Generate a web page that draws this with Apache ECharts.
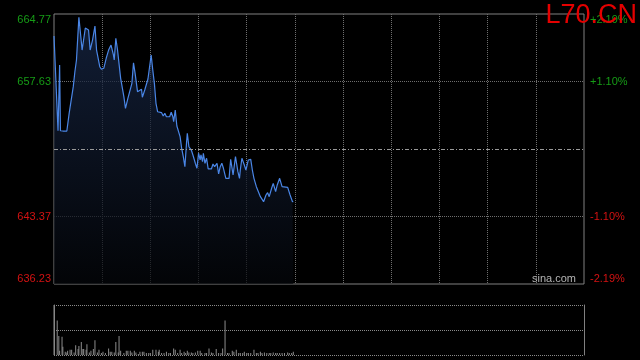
<!DOCTYPE html>
<html><head><meta charset="utf-8">
<script src="https://cdn.jsdelivr.net/npm/echarts@6/dist/echarts.min.js"></script>
<style>html,body{margin:0;padding:0;background:#000;}#c{width:640px;height:360px;}</style>
</head><body><div id="c"></div>
<script>
const symbolName = 'L70.CN';
const watermark = 'sina.com';
const preClose = 650.50;
const priceLabels = ['636.23', '643.37', '650.50', '657.63', '664.77'];
const pctLabels = ['-2.19%', '-1.10%', '0.00%', '+1.10%', '+2.19%'];

// minutes since open, last price
const lineMinutes = [0,5,7,8,11,16,19,21,24,26,
  28,31,35,39,41,43,45,48,51,53,
  57,59,62,65,68,71,74,75,77,79,
  81,83,85,87,89,92,94,97,99,101,
  104,106,109,110,113,117,119,121,123,125,
  127,129,134,136,138,140,144,146,148,149,
  151,153,155,157,159,161,163,165,166,168,
  171,173,176,178,180,182,183,185,186,188,
  190,192,196,198,200,203,205,207,209,211,
  214,218,220,223,226,229,231,232,234,237,
  239,242,245,247,249,252,254,257,259,261,
  264,266,268,271,273,276,278,281,284,286,
  291,294,297,298];
const linePrices = [662.44,652.43,659.38,652.43,652.40,652.40,654.34,654.44,657.09,658.67,
  659.91,664.42,660.96,663.29,663.50,663.08,660.96,662.02,663.50,660.96,
  659.20,658.93,659.03,660.09,660.96,661.49,660.44,659.91,662.20,661.04,
  660.96,657.97,657.90,656.03,654.80,655.86,656.03,657.44,659.62,658.50,
  656.56,656.39,656.81,655.97,656.74,657.90,657.97,660.44,658.85,657.44,
  655.33,654.44,654.34,653.99,654.27,653.91,653.91,654.38,653.91,653.39,
  654.62,652.93,652.86,651.80,650.57,649.69,648.63,651.10,652.16,650.74,
  650.39,649.87,648.99,648.46,650.05,649.34,649.87,649.16,650.05,648.99,
  649.52,648.39,648.39,648.91,648.63,648.99,647.86,648.63,648.99,648.46,
  647.40,647.40,649.41,647.75,649.69,648.10,647.40,648.28,649.52,648.81,
  648.28,649.34,649.41,648.28,647.40,646.52,646.35,645.46,645.29,644.93,
  645.64,645.88,645.46,646.35,646.87,645.99,646.70,647.40,646.52,646.45,
  646.45,645.64,644.93,644.93];

const volMinutes = [0,4,6,7,10,11,14,16,17,20,22,25,27,30,31,34,36,37,40,41,
  44,46,49,51,54,56,59,61,64,68,70,72,75,77,80,81,83,87,90,92,
  95,97,100,102,105,107,110,112,115,118,120,123,127,130,131,134,137,140,143,145,
  149,151,154,157,159,162,164,166,168,171,173,176,179,182,184,188,190,193,196,198,
  202,205,208,210,213,216,218,222,224,227,230,232,235,237,240,242,245,249,252,254,
  257,259,262,265,268,270,273,276,278,281,284,287,291,293,296,298];
const volValues = [10200,7060,3860,860,3720,1660,660,520,860,1060,1060,520,2000,1200,1860,2660,1200,1200,1060,2200,
  520,860,1200,3000,520,1060,400,660,400,1320,660,660,520,2660,520,3860,860,400,860,860,
  860,520,860,520,200,660,660,660,400,400,400,1060,1060,660,1060,400,400,660,400,400,
  1320,1060,400,1060,400,660,400,860,520,520,400,520,860,860,400,400,400,1320,520,400,
  1200,400,400,1320,7060,400,400,860,660,1060,400,400,400,660,400,400,400,1060,400,400,
  660,400,520,400,400,400,520,400,400,400,400,400,520,400,400,660];

const sessionMinutes = 660, gridStep = 60;
const range = (parseFloat(priceLabels[4]) - parseFloat(priceLabels[0])) / 2;
const step = range / 2;
const GREEN = '#169c16', RED = '#d41212';
const FONT = 'Liberation Sans, Arial, sans-serif';

const idxOf = v => Math.round((v + range) / step);
function yAx(position, labels, which, vAlign, split) {
  return {
    type: 'value', gridIndex: 0, position: position, min: -range, max: range, interval: step,
    axisLine: {show: false}, axisTick: {show: false},
    splitLine: split ? {show: true, lineStyle: {color: ['rgba(0,0,0,0)', '#6e6e6e', 'rgba(0,0,0,0)', '#6e6e6e', 'rgba(0,0,0,0)'], type: [1, 1], width: 1}} : {show: false},
    axisLabel: {
      show: true, fontSize: 11, fontFamily: FONT, verticalAlign: vAlign,
      margin: position === 'left' ? 3 : 6,
      color: v => (v > 0 ? GREEN : RED),
      formatter: v => { const i = idxOf(v); return which.indexOf(i) >= 0 ? labels[i] : ''; }
    }
  };
}

const xSplitColors = [];
for (let i = 0; i <= sessionMinutes / gridStep; i++) xSplitColors.push(i === 0 || i === sessionMinutes / gridStep ? 'rgba(0,0,0,0)' : '#6e6e6e');

const volMax = Math.max.apply(null, volValues);

const chart = echarts.init(document.getElementById('c'), null, {renderer: 'canvas'});
chart.setOption({
  backgroundColor: '#000',
  animation: false,
  title: [
    {text: symbolName, right: 3, top: 2, padding: 0, textStyle: {color: '#e40000', fontSize: 27, fontWeight: 'normal', fontFamily: FONT}},
    {text: watermark, left: 532, top: 273, padding: 0, textStyle: {color: '#b4b4b4', fontSize: 11, fontWeight: 'normal', fontFamily: FONT}}
  ],
  grid: [
    {left: 54, top: 14, width: 530, height: 270, show: true, borderColor: '#808080', borderWidth: 1, backgroundColor: 'transparent'},
    {left: 54, top: 305, width: 530, height: 50, show: false}
  ],
  xAxis: [
    {type: 'value', gridIndex: 0, min: 0, max: sessionMinutes, interval: gridStep,
      axisLine: {show: false}, axisTick: {show: false}, axisLabel: {show: false},
      splitLine: {show: true, lineStyle: {color: xSplitColors, type: [1, 1], width: 1}}},
    {type: 'value', gridIndex: 1, min: 0, max: sessionMinutes, interval: gridStep,
      axisLine: {show: false}, axisTick: {show: false}, axisLabel: {show: false}, splitLine: {show: false}}
  ],
  yAxis: [
    yAx('left', priceLabels, [1, 3], 'middle', true),
    yAx('left', priceLabels, [4], 'top', false),
    yAx('left', priceLabels, [0], 'bottom', false),
    yAx('right', pctLabels, [1, 3], 'middle', false),
    yAx('right', pctLabels, [4], 'top', false),
    yAx('right', pctLabels, [0], 'bottom', false),
    {type: 'value', gridIndex: 1, position: 'left', min: 0, max: volMax, interval: volMax / 2,
      axisLine: {show: true, lineStyle: {color: '#808080', width: 1}}, axisTick: {show: false}, axisLabel: {show: false},
      splitLine: {show: true, lineStyle: {color: '#8a8a8a', type: [1, 1], width: 1}}},
    {type: 'value', gridIndex: 1, position: 'right', min: 0, max: volMax, interval: volMax / 2,
      axisLine: {show: true, lineStyle: {color: '#808080', width: 1}}, axisTick: {show: false}, axisLabel: {show: false},
      splitLine: {show: false}}
  ],
  series: [
    {
      type: 'line', xAxisIndex: 0, yAxisIndex: 0, showSymbol: false, symbol: 'none',
      data: lineMinutes.map((m, i) => [m, +(linePrices[i] - preClose).toFixed(2)]),
      lineStyle: {color: '#4a86e6', width: 1.2},
      areaStyle: {origin: 'start', color: new echarts.graphic.LinearGradient(0, 0, 0, 1, [
        {offset: 0, color: '#192a4c'}, {offset: 1, color: '#04060a'}])},
      markLine: {symbol: 'none', silent: true, label: {show: false},
        lineStyle: {color: '#9a9a9a', type: [4, 2, 1, 2], width: 1},
        data: [{yAxis: 0}]}
    },
    {
      type: 'bar', xAxisIndex: 1, yAxisIndex: 6, barWidth: 1,
      data: volMinutes.map((m, i) => [m, volValues[i]]),
      itemStyle: {color: '#8c8c8c'}
    }
  ]
});
</script></body></html>
